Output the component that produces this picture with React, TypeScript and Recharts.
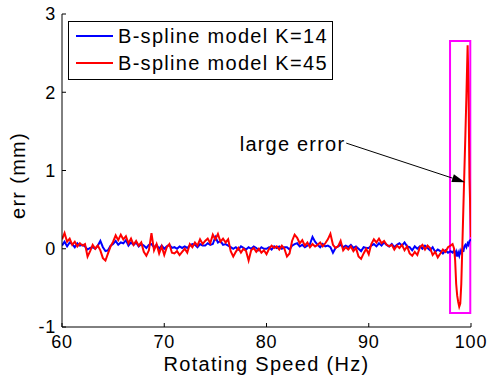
import React from 'react';
import { LineChart, Line, XAxis, YAxis, ReferenceArea, ReferenceLine, Legend } from 'recharts';

const FONT = '"Liberation Sans", Arial, Helvetica, sans-serif';

const speeds = [
  60, 60.25, 60.5, 60.75, 61, 61.25, 61.5, 61.75, 62, 62.25, 62.5, 62.75, 63, 63.25, 63.5, 63.75,
  64, 64.25, 64.5, 64.75, 65, 65.25, 65.5, 65.75, 66, 66.25, 66.5, 66.75, 67, 67.25, 67.5, 67.75,
  68, 68.25, 68.5, 68.75, 69, 69.25, 69.5, 69.75, 70, 70.25, 70.5, 70.75, 71, 71.25, 71.5, 71.75,
  72, 72.25, 72.5, 72.75, 73, 73.25, 73.5, 73.75, 74, 74.25, 74.5, 74.75, 75, 75.25, 75.5, 75.75,
  76, 76.25, 76.5, 76.75, 77, 77.25, 77.5, 77.75, 78, 78.25, 78.5, 78.75, 79, 79.25, 79.5, 79.75,
  80, 80.25, 80.5, 80.75, 81, 81.25, 81.5, 81.75, 82, 82.25, 82.5, 82.75, 83, 83.25, 83.5, 83.75,
  84, 84.25, 84.5, 84.75, 85, 85.25, 85.5, 85.75, 86, 86.25, 86.5, 86.75, 87, 87.25, 87.5, 87.75,
  88, 88.25, 88.5, 88.75, 89, 89.25, 89.5, 89.75, 90, 90.25, 90.5, 90.75, 91, 91.25, 91.5, 91.75,
  92, 92.25, 92.5, 92.75, 93, 93.25, 93.5, 93.75, 94, 94.25, 94.5, 94.75, 95, 95.25, 95.5, 95.75,
  96, 96.25, 96.5, 96.75, 97, 97.25, 97.5, 97.75, 98,
  98.2, 98.35, 98.45, 98.55, 98.65, 98.75, 98.85, 98.95, 99.05, 99.15, 99.25, 99.35, 99.45, 99.55,
  99.67, 99.75, 99.85, 100,
];

const errK14 = [
  0.04, 0.09, 0.03, 0.08, 0.06, 0.02, 0.07, 0.04, 0.05, 0.03, -0.01, 0.01, 0.02, 0.0, 0.04, 0.1,
  0.02, -0.03, -0.02, 0.04, 0.06, 0.1, 0.05, 0.08, 0.07, 0.11, 0.04, 0.08, 0.05, 0.08, 0.03, 0.06,
  0.04, 0.01, 0.05, 0.06, 0.02, 0.05, 0.0, 0.04, 0.0, 0.03, 0.05, 0.01, 0.02, 0.0, 0.03, 0.01,
  0.03, 0.01, 0.04, 0.06, 0.05, 0.02, 0.06, 0.04, 0.04, 0.07, 0.05, 0.06, 0.15, 0.08, 0.1, 0.05,
  0.06, 0.04, 0.02, 0.0, 0.02, -0.01, 0.03, 0.01, -0.01, 0.02, 0.0, 0.03, 0.01, -0.02, 0.02, 0.0,
  0.0, 0.02, -0.01, 0.03, 0.01, 0.03, 0.0, 0.02, 0.02, -0.01, 0.04, 0.06, 0.07, 0.03, 0.05, 0.02,
  0.04, 0.06, 0.15, 0.09, 0.05, 0.02, 0.06, 0.03, 0.04, 0.02, -0.05, 0.01, 0.03, 0.05, 0.02, 0.04,
  0.02, 0.05, 0.01, 0.03, 0.0, -0.03, 0.02, 0.01, 0.01, 0.04, 0.06, 0.03, 0.07, 0.04, 0.08, 0.05,
  0.03, 0.06, 0.02, 0.05, 0.07, 0.04, 0.08, 0.03, 0.02, -0.02, 0.03, 0.0, 0.03, 0.0, 0.04, 0.01,
  -0.02, 0.02, -0.04, -0.01, -0.03, -0.06, -0.02, -0.05, -0.03,
  -0.05, -0.02, -0.08, -0.04, -0.1, -0.05, -0.09, -0.03, -0.07, 0.0, -0.04, 0.03, 0.05, 0.02,
  0.07, 0.05, 0.1, 0.12,
];

const errK45 = [
  0.12, 0.2, 0.09, 0.13, 0.05, 0.09, 0.03, 0.07, 0.04, 0.06, -0.1, -0.03, 0.05, 0.0, 0.04, -0.02,
  -0.12, -0.15, -0.06, 0.03, 0.09, 0.17, 0.11, 0.18, 0.12, 0.16, 0.07, 0.13, 0.05, 0.1, 0.04, 0.08,
  -0.04, -0.09, -0.02, 0.2, -0.02, 0.06, -0.06, 0.03, -0.08, 0.02, 0.06, -0.05, -0.06, -0.03, -0.08, -0.04,
  0.0, -0.05, 0.06, 0.02, 0.08, 0.04, 0.12, 0.06, 0.1, 0.13, 0.07, 0.18, 0.12, 0.19, 0.09, 0.13,
  0.08, 0.12, -0.03, -0.1, -0.04, 0.01, -0.05, 0.0, -0.03, -0.15, -0.02, 0.01, -0.04, 0.0, -0.05, -0.02,
  -0.07, 0.0, 0.04, 0.01, 0.03, -0.01, 0.04, 0.0, -0.1, -0.06, 0.1, 0.18, 0.14, 0.07, 0.11, 0.04,
  0.08, 0.02, 0.06, 0.03, 0.05, 0.08, 0.03, 0.07, 0.12, 0.19, 0.05, 0.01, 0.03, 0.1, -0.02, 0.02,
  -0.01, 0.03, -0.03, 0.01, -0.1, -0.13, -0.06, 0.0, -0.07, 0.06, 0.12, 0.08, 0.13, 0.07, 0.1, 0.05,
  0.03, 0.05, -0.01, 0.04, 0.01, 0.05, -0.02, 0.03, -0.06, -0.09, -0.04, -0.08, 0.02, 0.05, -0.01, 0.04,
  0.01, -0.08, -0.04, -0.11, -0.06, -0.01, -0.04, 0.02, 0.04,
  0.06, 0.0, -0.15, -0.45, -0.6, -0.68, -0.74, -0.7, -0.45, 0.02, 0.5, 0.98, 1.45, 1.95,
  2.6, 2.1, 0.9, 0.15,
];

const xTicks = [60, 70, 80, 90, 100];
const yTicks = [-1, 0, 1, 2, 3];
const seriesNames = ['B-spline model K=14', 'B-spline model K=45'];
const seriesKeys = ['k14', 'k45'];
const seriesColors = ['#0000ff', '#ff0000'];
const xTitle = 'Rotating Speed (Hz)';
const yTitle = 'err (mm)';
const annotationText = 'large error';
const arrowFrom = { x: 87.8, y: 1.35 };
const arrowTo = { x: 99.41, y: 0.85 };
const boxSpeed = [97.95, 99.93];
const boxErr = [-0.82, 2.655];

const data = speeds.map((s, i) => ({ speed: s, k14: errK14[i], k45: errK45[i] }));

const ArrowShape = (props: any) => {
  const { x1, y1, x2, y2 } = props;
  const ang = Math.atan2(y2 - y1, x2 - x1);
  const L = 13;
  const W = 4;
  const bx = x2 - L * Math.cos(ang);
  const by = y2 - L * Math.sin(ang);
  const px = -Math.sin(ang) * W;
  const py = Math.cos(ang) * W;
  return (
    <g>
      <text x={x1 - 1} y={y1 + 8} textAnchor="end" fontSize={20} letterSpacing={1.2} fontFamily={FONT} fill="#000">
        {annotationText}
      </text>
      <line x1={x1} y1={y1} x2={bx} y2={by} stroke="#000" strokeWidth={1} />
      <polygon points={`${x2},${y2} ${bx + px},${by + py} ${bx - px},${by - py}`} fill="#000" />
    </g>
  );
};

const LegendBox = () => (
  <div
    style={{
      position: 'relative',
      width: 265,
      height: 59,
      border: '1px solid #000',
      background: '#fff',
      boxSizing: 'border-box',
      fontFamily: FONT,
      fontSize: 20,
      letterSpacing: 1.3,
      color: '#000',
    }}
  >
    {seriesNames.map((n, i) => (
      <div
        key={n}
        style={{ position: 'absolute', left: 0, top: 0.5 + 27 * i, height: 27, display: 'flex', alignItems: 'center', whiteSpace: 'nowrap' }}
      >
        <span style={{ display: 'inline-block', marginLeft: 7, width: 37, height: 2, background: seriesColors[i] }} />
        <span style={{ marginLeft: 5, lineHeight: '27px' }}>{n}</span>
      </div>
    ))}
  </div>
);

const YTitle = (props: any) => {
  const vb = props.viewBox || { x: 0, y: 14, width: 62, height: 313 };
  const cx = 25;
  const cy = vb.y + vb.height / 2 + 5;
  return (
    <text x={cx} y={cy} transform={`rotate(-90, ${cx}, ${cy})`} textAnchor="middle" fontSize={20} letterSpacing={1.3} fontFamily={FONT} fill="#000">
      {yTitle}
    </text>
  );
};

const XTitle = (props: any) => {
  const vb = props.viewBox || { x: 62, y: 327, width: 409, height: 54 };
  return (
    <text x={vb.x + vb.width / 2} y={vb.y + 44} textAnchor="middle" fontSize={20} letterSpacing={1.3} fontFamily={FONT} fill="#000">
      {xTitle}
    </text>
  );
};

const tickStyle = { fontSize: 18, fontFamily: FONT, fill: '#000', letterSpacing: 0.8 };

export default function App() {
  return (
    <div style={{ position: 'absolute', left: 0, top: 0, width: 491, height: 381, background: '#fff' }}>
      <LineChart width={491} height={381} data={data} margin={{ top: 14, right: 20, bottom: 0, left: 0 }}>
        <XAxis
          dataKey="speed"
          type="number"
          domain={[60, 100]}
          ticks={xTicks}
          allowDataOverflow
          height={54}
          stroke="#000"
          tickSize={-4}
          tickMargin={12}
          tick={tickStyle}
          label={<XTitle />}
        />
        <XAxis
          xAxisId="top"
          orientation="top"
          dataKey="speed"
          type="number"
          domain={[60, 100]}
          ticks={xTicks}
          height={0}
          stroke="#000"
          tickSize={-4}
          tickFormatter={() => ''}
        />
        <YAxis
          type="number"
          domain={[-1, 3]}
          ticks={yTicks}
          allowDataOverflow
          width={62}
          stroke="#000"
          tickSize={-4}
          tickMargin={10}
          tick={tickStyle}
          label={<YTitle />}
        />
        <YAxis
          yAxisId="right"
          orientation="right"
          type="number"
          domain={[-1, 3]}
          ticks={yTicks}
          width={0}
          stroke="#000"
          tickSize={-4}
          tickFormatter={() => ''}
        />
        <Line
          dataKey={seriesKeys[0]}
          name={seriesNames[0]}
          stroke={seriesColors[0]}
          strokeWidth={2}
          dot={false}
          type="linear"
          isAnimationActive={false}
        />
        <Line
          dataKey={seriesKeys[1]}
          name={seriesNames[1]}
          stroke={seriesColors[1]}
          strokeWidth={2}
          dot={false}
          type="linear"
          isAnimationActive={false}
        />
        <ReferenceArea
          x1={boxSpeed[0]}
          x2={boxSpeed[1]}
          y1={boxErr[0]}
          y2={boxErr[1]}
          fill="none"
          fillOpacity={0}
          stroke="#ff00ff"
          strokeWidth={2}
          ifOverflow="extendDomain"
        />
        <ReferenceLine
          segment={[arrowFrom, arrowTo]}
          stroke="#000"
          shape={ArrowShape}
        />
        <Legend
          layout="horizontal"
          verticalAlign="middle"
          align="center"
          content={LegendBox}
          wrapperStyle={{ left: 68, top: 21, width: 265, height: 59 }}
        />
      </LineChart>
    </div>
  );
}
